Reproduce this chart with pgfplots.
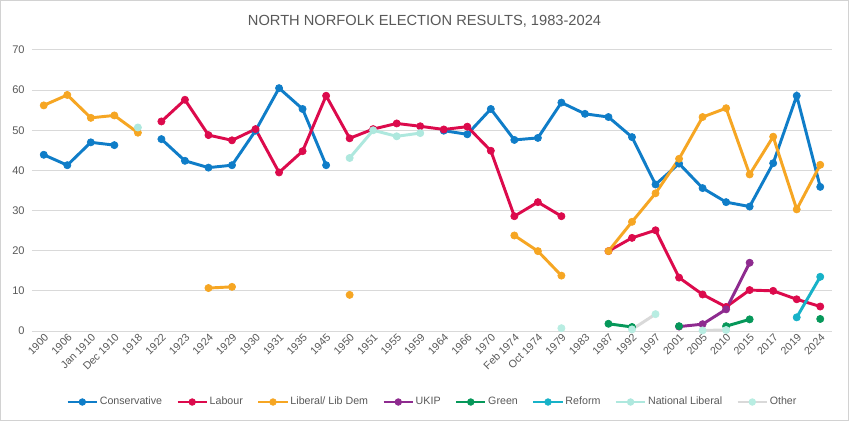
\documentclass[border=0pt]{standalone}
\usepackage{fontspec}
\setmainfont{Liberation Sans}
\usepackage{pgfplots}
\pgfplotsset{compat=1.18}
\definecolor{cons}{HTML}{0F7DC8}
\definecolor{lab}{HTML}{DC0A4C}
\definecolor{lib}{HTML}{F6A623}
\definecolor{ukip}{HTML}{8E2B8F}
\definecolor{grn}{HTML}{06985A}
\definecolor{ref}{HTML}{17B2C8}
\definecolor{natlib}{HTML}{AEE8DE}
\definecolor{othline}{HTML}{D9D9D9}
\definecolor{othmark}{HTML}{B8EDE2}
\definecolor{txt}{HTML}{595959}
\definecolor{gridc}{HTML}{D9D9D9}
\begin{document}
\begin{tikzpicture}[x=1pt,y=1pt]
\draw[draw=gray!35, fill=white, line width=0.75pt] (0.375,0.375) rectangle (636.375,315.375);
\node[font=\fontsize{11}{13}\selectfont, text=txt] at (318.4,300) {NORTH NORFOLK ELECTION RESULTS, 1983-2024};
\begin{axis}[
  at={(24pt,67.5pt)}, anchor=south west,
  width=600pt, height=210.75pt, scale only axis,
  xmin=-0.5, xmax=33.5, ymin=0, ymax=70,
  axis line style={draw=none}, major tick length=0pt,
  ymajorgrids, grid style={color=gridc, line width=0.75pt},
  ytick={0,10,...,70},
  yticklabel style={font=\fontsize{8.3}{10}\selectfont, text=txt, xshift=-2pt},
  xtick={0,...,33},
  xticklabels={1900,1906,Jan 1910,Dec 1910,1918,1922,1923,1924,1929,1930,1931,1935,1945,1950,1951,1955,1959,1964,1966,1970,Feb 1974,Oct 1974,1979,1983,1987,1992,1997,2001,2005,2010,2015,2017,2019,2024},
  xticklabel style={font=\fontsize{8}{10}\selectfont, text=txt, rotate=45, anchor=north east, inner sep=1pt},
  /pgf/number format/assume math mode=true,
  unbounded coords=jump,
  every axis plot/.append style={line width=2.2pt, mark=*, mark size=2.7pt},
  legend columns=8,
  legend style={at={(0.5,-0.2527)}, anchor=center, draw=none, fill=none,
    font=\fontsize{8}{10}\selectfont, text=txt,
    nodes={inner xsep=1pt},
    /tikz/every even column/.append style={column sep=9.5pt}},
  legend image code/.code={\draw[#1, line width=2.2pt] (0pt,0pt) -- (22pt,0pt); \draw[#1, line width=0.5pt, mark size=2.5pt] plot coordinates {(11pt,0pt)};},
]
\addplot[color=cons, mark options={fill=cons, draw=cons, line width=0.5pt}] coordinates {
(0,43.9)(1,41.3)(2,47.0)(3,46.3)(4,nan)(5,47.8)(6,42.4)(7,40.7)(8,41.3)(9,49.9)(10,60.5)(11,55.3)(12,41.3)(13,nan)(14,nan)(15,nan)(16,nan)
(17,49.9)(18,49.0)(19,55.3)(20,47.6)(21,48.1)(22,56.9)(23,54.1)(24,53.3)(25,48.3)(26,36.5)(27,41.7)(28,35.6)(29,32.1)(30,31.0)(31,41.8)(32,58.6)(33,35.9)};
\addlegendentry{Conservative}
\addplot[color=lab, mark options={fill=lab, draw=lab, line width=0.5pt}] coordinates {
(5,52.2)(6,57.6)(7,48.8)(8,47.5)(9,50.3)(10,39.5)(11,44.8)(12,58.6)(13,48.0)(14,50.3)(15,51.7)(16,51.0)(17,50.2)(18,50.9)(19,44.9)(20,28.6)(21,32.1)(22,28.6)(23,nan)
(24,19.9)(25,23.2)(26,25.1)(27,13.3)(28,9.1)(29,6.0)(30,10.2)(31,10.0)(32,7.9)(33,6.1)};
\addlegendentry{Labour}
\addplot[color=lib, mark options={fill=lib, draw=lib, line width=0.5pt}] coordinates {
(0,56.2)(1,58.8)(2,53.1)(3,53.7)(4,49.4)(5,nan)(6,nan)(7,10.7)(8,11.0)(9,nan)(12,nan)(13,9.0)(14,nan)(19,nan)
(20,23.8)(21,19.9)(22,13.8)(23,nan)(24,19.9)(25,27.2)(26,34.3)(27,42.9)(28,53.3)(29,55.5)(30,39.0)(31,48.4)(32,30.3)(33,41.4)};
\addlegendentry{Liberal/ Lib  Dem}
\addplot[color=ukip, mark options={fill=ukip, draw=ukip, line width=0.5pt}] coordinates {
(27,1.1)(28,1.7)(29,5.4)(30,17.0)};
\addlegendentry{UKIP}
\addplot[color=grn, mark options={fill=grn, draw=grn, line width=0.5pt}] coordinates {
(24,1.8)(25,1.0)(26,nan)(27,1.2)(28,nan)(29,1.2)(30,2.9)(31,nan)(32,nan)(33,3.0)};
\addlegendentry{Green}
\addplot[color=ref, mark options={fill=ref, draw=ref, line width=0.5pt}] coordinates {
(32,3.4)(33,13.5)};
\addlegendentry{Reform}
\addplot[color=natlib, mark options={fill=natlib, draw=natlib, line width=0.5pt}] coordinates {
(4,50.7)(5,nan)(12,nan)(13,43.1)(14,50.0)(15,48.5)(16,49.3)};
\addlegendentry{National Liberal}
\addplot[color=othline, mark options={fill=othmark, draw=othmark, line width=0.5pt}] coordinates {
(22,0.7)(23,nan)(24,nan)(25,0.4)(26,4.2)(27,nan)(28,0.15)(29,0.25)};
\addlegendentry{Other}
\end{axis}
\end{tikzpicture}
\end{document}
